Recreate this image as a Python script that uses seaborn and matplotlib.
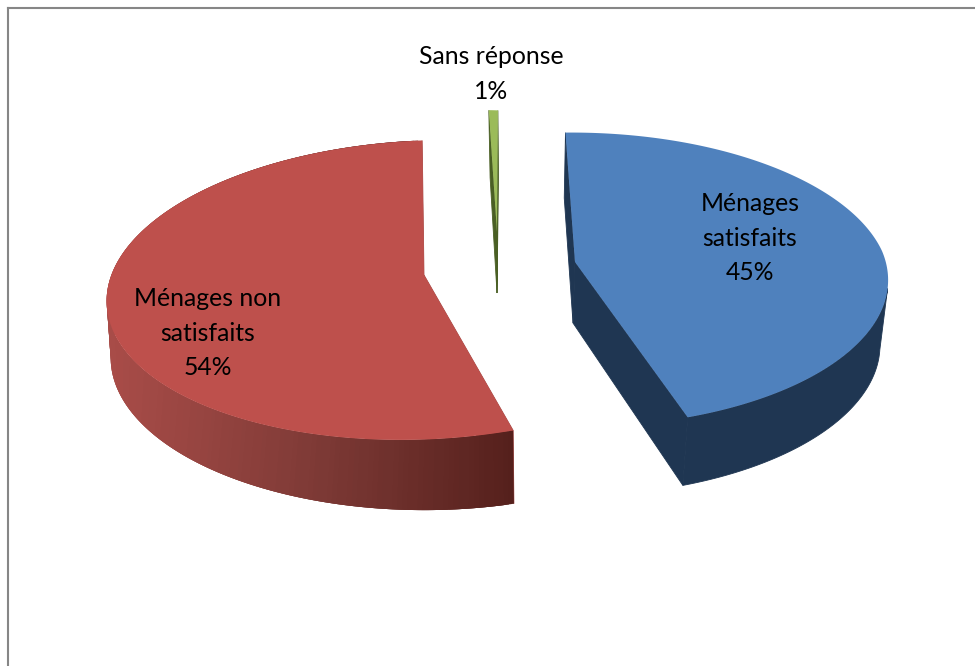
import numpy as np
import matplotlib
matplotlib.use("Agg")
import matplotlib.pyplot as plt
import seaborn as sns

# values go round clockwise from the start angle, as in the original pie
labels = ["Ménages non\nsatisfaits", "Sans réponse", "Ménages\nsatisfaits"]
values = [54, 1, 45]

start_angle = 165.6
face_colors = ["#BE504C", "#9BBB59", "#4F81BD"]
wall_ramps = [["#A84C48", "#7E3A36", "#55201C"], ["#4A5F24", "#4A5F24"], ["#1F3652", "#1F3652"]]

# per slice layout, the lean pairs are (back, front)
apex_points = [(424, 275), (497, 232), (575, 262)]
half_sizes = [(316, 148), (159, 134), (307, 144.5)]
top_leans = [(-2, -2), (-9, -9), (-30, -24)]
bottom_leans = [(-2, -2), (-8, -8), (-29, -19)]
bottom_shift = [-2, 0, -2]
top_tilt = [0.10, 0.10, 0.12]
bottom_tilt = [0.15, 0.16, 0.16]
top_skew = [12, 0, 11]
bottom_skew = [0, 0, 11]
label_pos = [(208, 333), (491, 74), (750, 238)]

DEPTH = 61


def project(theta, i, bottom=False):
    x0, y0 = apex_points[i]
    a, b = half_sizes[i]
    lean = bottom_leans[i] if bottom else top_leans[i]
    k = bottom_tilt[i] if bottom else top_tilt[i]
    c = bottom_skew[i] if bottom else top_skew[i]
    if bottom:
        a = a * 0.975
        x0 = x0 + bottom_shift[i]
        y0 = y0 + DEPTH
    u, v = np.sin(theta), np.cos(theta)
    s = 1 / (1 + k * v)
    x = x0 + (a * u + np.where(v > 0, lean[0], lean[1]) * v) * s
    y = y0 - (b * v + c * u) * s
    return x, y


def draw_slice(ax, t1, t2, i):
    ramp = wall_ramps[i]
    ang = np.linspace(t1, t2, 240)
    tx, ty = project(ang, i)
    bx, by = project(ang, i, bottom=True)
    apex_x, apex_y = apex_points[i]
    low_x, low_y = apex_x + bottom_shift[i], apex_y + DEPTH
    flat = ramp[0] == ramp[-1]

    # the two cut walls
    for j in (0, -1):
        ax.fill([apex_x, tx[j], bx[j], low_x], [apex_y, ty[j], by[j], low_y],
                color=ramp[-1] if flat else ramp[0], lw=0.6, zorder=2)

    # outer wall, only the front part shows from above
    if flat:
        front = np.cos(ang) < -0.25
        if front.any():
            ax.fill(np.r_[tx[front], bx[front][::-1]], np.r_[ty[front], by[front][::-1]],
                    color=ramp[0], lw=0.6, zorder=2)
    else:
        # strips overlap their neighbour so no seams show, shading follows x
        colors = sns.blend_palette(ramp, 64)
        x_min, x_max = bx.min(), bx.max()
        for j in range(len(ang) - 4):
            c = colors[int((bx[j] - x_min) / (x_max - x_min) * 63)]
            ax.fill(np.r_[tx[j:j + 4], bx[j:j + 4][::-1]], np.r_[ty[j:j + 4], by[j:j + 4][::-1]],
                    color=c, lw=0, zorder=2)

    ax.fill(np.r_[apex_x, tx], np.r_[apex_y, ty], color=face_colors[i], lw=0, zorder=3)


sns.set_theme(style="white")
plt.rcParams["font.family"] = ["Lato", "DejaVu Sans"]

fig = plt.figure(figsize=(9.75, 6.66), dpi=100)
ax = fig.add_axes([8 / 975, 0, 967 / 975, 658 / 666])
ax.set_xlim(8, 975)
ax.set_ylim(666, 8)
ax.set_xticks([])
ax.set_yticks([])
for side in ["right", "bottom"]:
    ax.spines[side].set_visible(False)
for side in ["top", "left"]:
    ax.spines[side].set_color("#868686")
    ax.spines[side].set_linewidth(1.5)

edges = np.deg2rad(start_angle + np.cumsum([0] + values) * 3.6)
for i in range(len(values)):
    draw_slice(ax, edges[i], edges[i + 1], i)

for label, value, (x, y) in zip(labels, values, label_pos):
    ax.text(x, y, f"{label}\n{value}%", ha="center", va="center", fontsize=17.8,
            color="black", linespacing=1.58, zorder=5)

fig.savefig("out.png", dpi=100)
